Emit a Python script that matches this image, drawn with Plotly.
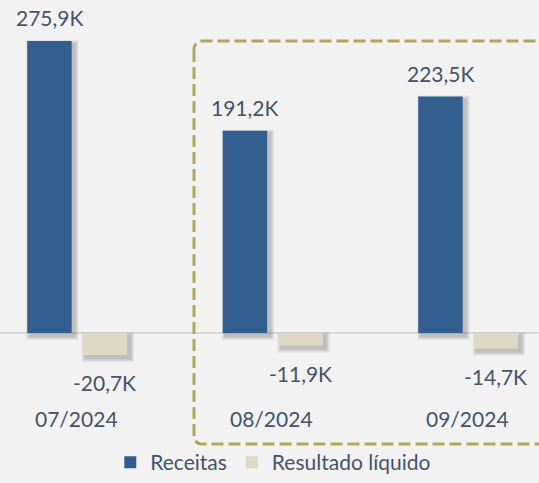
import plotly.graph_objects as go

# ---- data ----
categories = ["07/2024", "08/2024", "09/2024"]
receitas = [275.9, 191.2, 223.5]
resultado = [-20.7, -11.9, -14.7]
receitas_labels = ["275,9K", "191,2K", "223,5K"]
resultado_labels = ["-20,7K", "-11,9K", "-14,7K"]
series_names = ["Receitas", "Resultado líquido"]

# ---- style ----
W, H = 539, 483
BG = "#F2F2F2"
BLUE = "#335E90"
BEIGE = "#DDD9C4"
TXT = "#44546A"
GOLD = "#B5A55B"
FONT = "Lato"
FS = 21

# geometry (pixels -> axis units)
px_per_cat = 195.5
x_center0 = 76.2
zero_py = 333.0
px_per_k = 1.058
xr = [(0 - x_center0) / px_per_cat, (W - x_center0) / px_per_cat]
yr = [-(H - zero_py) / px_per_k, zero_py / px_per_k]
kpp = 1 / px_per_k  # K per pixel
cpp = 1 / px_per_cat  # category per pixel

bar_w = 44.5 * cpp
off_rec = -49.0 * cpp
off_res = 6.5 * cpp

fig = go.Figure()

# soft drop shadows
def add_shadow(vals, off):
    for k in range(1, 5):
        lo = [min(0, v) - (3 + k) * kpp for v in vals]
        hi = [max(0, v) - (3 - k) * kpp for v in vals]
        fig.add_trace(go.Bar(
            x=categories, y=[h - l for h, l in zip(hi, lo)], base=lo,
            width=bar_w + 2 * k * cpp, offset=off + (3 - k) * cpp,
            marker=dict(color="rgba(0,0,0,0.055)", line=dict(width=0)),
            showlegend=False, hoverinfo="skip"))

add_shadow(receitas, off_rec)
add_shadow(resultado, off_res)

fig.add_trace(go.Bar(x=categories, y=receitas, name=series_names[0],
                     width=bar_w, offset=off_rec,
                     marker=dict(color=BLUE, line=dict(width=0))))
fig.add_trace(go.Bar(x=categories, y=resultado, name=series_names[1],
                     width=bar_w, offset=off_res,
                     marker=dict(color=BEIGE, line=dict(width=0))))

ann = []
for c, v, t in zip(categories, receitas, receitas_labels):
    ann.append(dict(x=c, y=v, text=t, showarrow=False, xshift=-26.8, yshift=23.5,
                    yanchor="middle", font=dict(family=FONT, size=FS, color=TXT)))
for c, v, t in zip(categories, resultado, resultado_labels):
    ann.append(dict(x=c, y=v, text=t, showarrow=False, xshift=28.7, yshift=-28,
                    yanchor="middle", font=dict(family=FONT, size=FS, color=TXT)))
for c in categories:
    ann.append(dict(x=c, y=1 - 418 / H, yref="paper", text=c, showarrow=False,
                    yanchor="middle", font=dict(family=FONT, size=FS, color=TXT)))

# dashed rounded highlight box (pixel -> paper)
def P(px, py):
    return f"{px / W:.5f},{1 - py / H:.5f}"
L, T, B, R, r = 194, 41, 444, 580, 9
path = (f"M{P(L, T + r)} L{P(L, B - r)} Q{P(L, B)} {P(L + r, B)} L{P(R, B)} "
        f"L{P(R, T)} L{P(L + r, T)} Q{P(L, T)} {P(L, T + r)} Z")
shapes = [dict(type="path", xref="paper", yref="paper", path=path,
               line=dict(color=GOLD, width=3, dash="12px,5px"), fillcolor="rgba(0,0,0,0)")]

fig.update_layout(
    width=W, height=H, margin=dict(l=0, r=0, t=0, b=0),
    paper_bgcolor=BG, plot_bgcolor=BG, barmode="overlay",
    xaxis=dict(range=xr, showticklabels=False, showgrid=False, zeroline=False,
               showline=False, ticks=""),
    yaxis=dict(range=yr, showticklabels=False, showgrid=False, zeroline=True,
               zerolinecolor="#D9D9D9", zerolinewidth=2, showline=False, ticks=""),
    annotations=ann, shapes=shapes,
    legend=dict(orientation="h", x=0.507, xanchor="center", y=0,
                yanchor="bottom", bgcolor="rgba(0,0,0,0)", borderwidth=0,
                font=dict(family=FONT, size=FS, color=TXT), itemwidth=30),
    showlegend=True,
)

fig.write_html("out.html", config={"displayModeBar": False},
               post_script="document.body.style.margin='0';document.body.style.overflow='hidden';")
